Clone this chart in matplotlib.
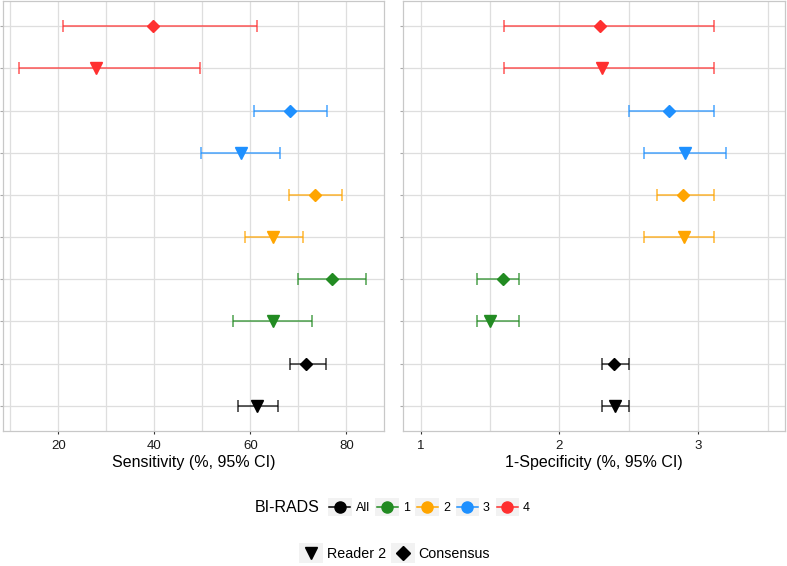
import numpy as np
import matplotlib
matplotlib.use("Agg")
import matplotlib.pyplot as plt
from matplotlib.lines import Line2D
from matplotlib.patches import Rectangle
from matplotlib.legend_handler import HandlerBase

plt.rcParams['font.family'] = ['Liberation Sans', 'DejaVu Sans']

groups = ['All', '1', '2', '3', '4']
colors = ['#000000', '#228B22', '#FFA500', '#1E90FF', '#FF3030']

# sensitivity (%), reader 2 and consensus
sens_r2 = [61.3, 64.8, 64.8, 58.1, 27.8]
sens_r2_lo = [57.4, 56.5, 58.9, 49.7, 11.9]
sens_r2_hi = [65.7, 72.8, 71.0, 66.1, 49.5]
sens_cons = [71.7, 77.1, 73.4, 68.25, 39.7]
sens_cons_lo = [68.2, 69.9, 68.1, 60.75, 21.0]
sens_cons_hi = [75.7, 84.2, 79.2, 76.0, 61.4]

# 1-specificity (%), reader 2 and consensus
spec_r2 = [2.40, 1.50, 2.90, 2.905, 2.305]
spec_r2_lo = [2.31, 1.405, 2.61, 2.61, 1.60]
spec_r2_hi = [2.50, 1.705, 3.11, 3.20, 3.11]
spec_cons = [2.39, 1.59, 2.89, 2.79, 2.29]
spec_cons_lo = [2.31, 1.405, 2.70, 2.50, 1.60]
spec_cons_hi = [2.50, 1.705, 3.11, 3.11, 3.11]

GRID = '#DEDEDE'
BORDER = '#C8C8C8'

W, H = 787, 566
fig = plt.figure(figsize=(W / 100, H / 100), dpi=100)
ax1 = fig.add_axes([2.5 / W, 1 - 431 / H, (384 - 2.5) / W, 430 / H])
ax2 = fig.add_axes([403.3 / W, 1 - 431 / H, (785 - 403.3) / W, 430 / H])


def draw_panel(ax, r2, r2_lo, r2_hi, cons, cons_lo, cons_hi):
    for i, (g, c) in enumerate(zip(groups, colors)):
        y_r2 = 2 * i + 1
        y_c = 2 * i + 2
        for y, v, lo, hi, mk, ms in [(y_r2, r2[i], r2_lo[i], r2_hi[i], 'v', 8.6),
                                     (y_c, cons[i], cons_lo[i], cons_hi[i], 'D', 6.0)]:
            ax.errorbar([v], [y], xerr=[[v - lo], [hi - v]], fmt='none',
                        ecolor=c, elinewidth=1.1, capsize=4.3, capthick=1.1,
                        alpha=0.8, zorder=3)
            ax.plot([v], [y], marker=mk, ms=ms, color=c, ls='none', zorder=4)
    ax.set_ylim(0.4, 10.6)
    ax.set_yticks(np.arange(1, 11))
    ax.set_yticklabels([])
    ax.tick_params(axis='y', length=2.2, width=0.8, color='#AAAAAA')
    ax.tick_params(axis='x', length=2.5, width=0.8, color='#333333',
                   labelsize=9.5, labelcolor='#1A1A1A', pad=4)
    ax.grid(True, which='both', color=GRID, lw=0.9)
    ax.set_axisbelow(True)
    for s in ax.spines.values():
        s.set_color(BORDER)
        s.set_linewidth(0.9)


draw_panel(ax1, sens_r2, sens_r2_lo, sens_r2_hi, sens_cons, sens_cons_lo, sens_cons_hi)
ax1.set_xlim(8.4, 87.85)
ax1.set_xticks([20, 40, 60, 80])
ax1.set_xticks([10, 30, 50, 70], minor=True)
ax1.tick_params(axis='x', which='minor', length=0)
ax1.set_xlabel('Sensitivity (%, 95% CI)', fontsize=11.5, labelpad=2)

draw_panel(ax2, spec_r2, spec_r2_lo, spec_r2_hi, spec_cons, spec_cons_lo, spec_cons_hi)
ax2.set_xlim(0.875, 3.625)
ax2.set_xticks([1, 2, 3])
ax2.set_xticks([1.5, 2.5, 3.5], minor=True)
ax2.tick_params(axis='x', which='minor', length=0)
ax2.set_xlabel('1-Specificity (%, 95% CI)', fontsize=11.5, labelpad=2)


class KeyHandler(HandlerBase):
    def create_artists(self, legend, orig_handle, xdescent, ydescent,
                       width, height, fontsize, trans):
        x0, y0 = -xdescent, -ydescent
        cy = y0 + height / 2
        out = [Rectangle((x0, y0), width, height, facecolor='#F2F2F2',
                         edgecolor='none', transform=trans)]
        c = orig_handle.get_color()
        if orig_handle.get_linestyle() not in ('None', '', 'none'):
            out.append(Line2D([x0 + 1, x0 + width - 1], [cy, cy], color=c, lw=1.1,
                              transform=trans))
        out.append(Line2D([x0 + width / 2], [cy], marker=orig_handle.get_marker(),
                          ms=orig_handle.get_markersize(), color=c, ls='none',
                          transform=trans))
        return out


grp_handles = [Line2D([], [], color=c, marker='o', ms=8, ls='-') for c in colors]
fig.legend(grp_handles, groups, loc='center', ncol=5,
           bbox_to_anchor=(429 / W, 1 - 507 / H), frameon=False,
           fontsize=9, handlelength=1.9, handleheight=1.9,
           handletextpad=0.3, columnspacing=0.45, borderpad=0,
           handler_map={Line2D: KeyHandler()})
fig.text(320 / W, 1 - 507 / H, 'BI-RADS', ha='right', va='center', fontsize=11.5)

shape_handles = [Line2D([], [], color='black', marker='v', ms=8.4, ls='none'),
                 Line2D([], [], color='black', marker='D', ms=7.0, ls='none')]
fig.legend(shape_handles, ['Reader 2', 'Consensus'], loc='center', ncol=2,
           bbox_to_anchor=(394.4 / W, 1 - 553 / H), frameon=False,
           fontsize=10.3, handlelength=1.68, handleheight=1.68,
           handletextpad=0.25, columnspacing=0.35, borderpad=0,
           handler_map={Line2D: KeyHandler()})

fig.savefig('out.png', dpi=100)
